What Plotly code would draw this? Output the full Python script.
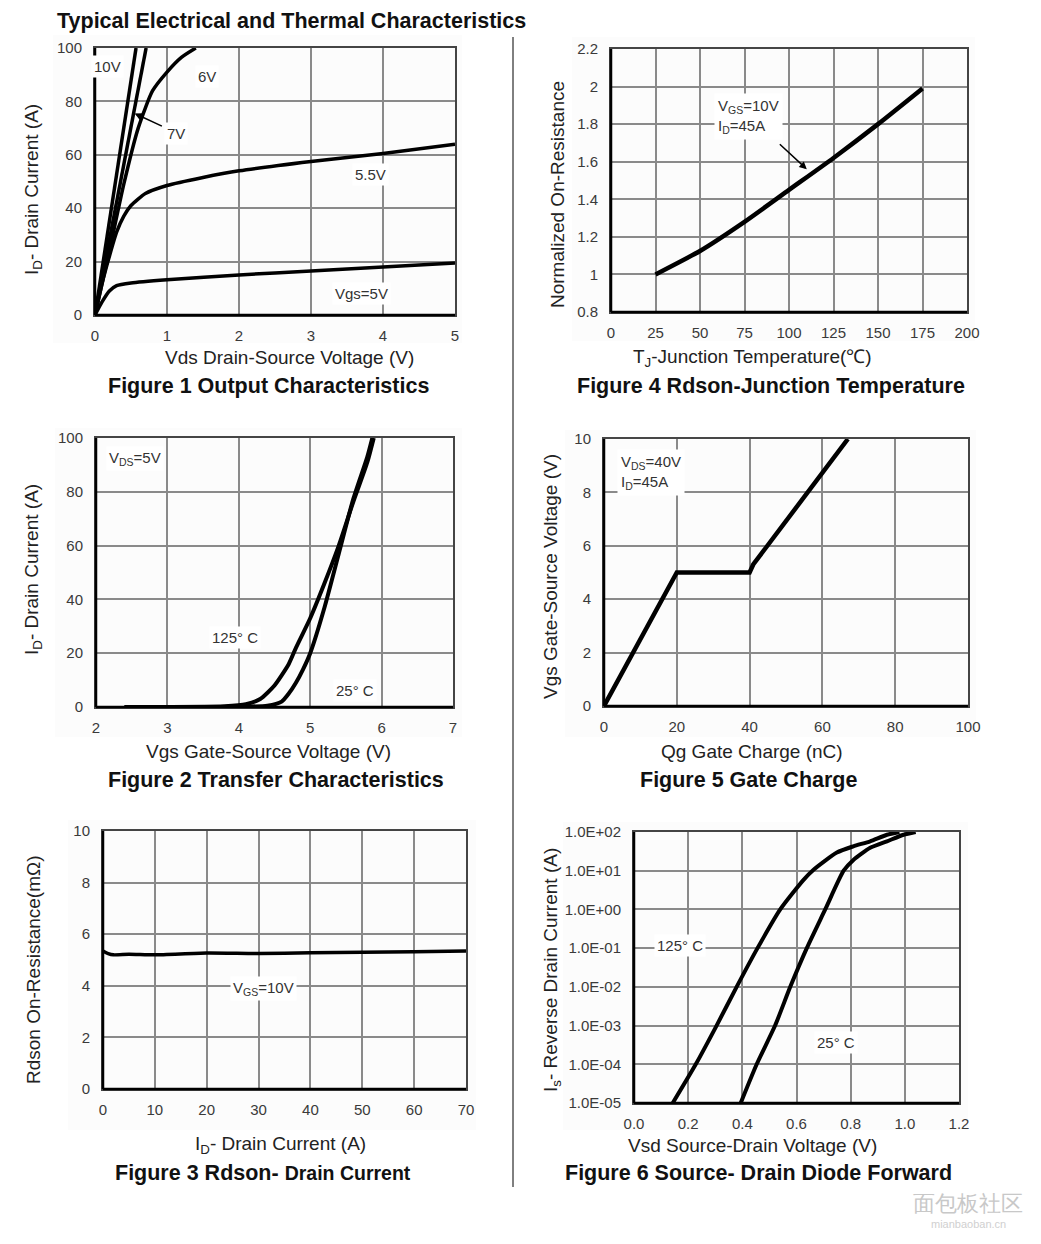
import plotly.graph_objects as go

W, H = 1041, 1244
OFF = 8  # page body margin in the browser
FONT = "Liberation Sans, Arial, sans-serif"

# ---------------- data ----------------
# Figure 1 Output characteristics
f1_vds_5 = [0, 0.1, 0.2, 0.3, 0.5, 1, 2, 3, 4, 5]
f1_id_5 = [0, 5, 9, 11, 12, 13.2, 15, 16.5, 18, 19.5]
f1_vds_55 = [0, 0.1, 0.2, 0.3, 0.4, 0.5, 0.7, 1, 1.5, 2, 3, 4, 5]
f1_id_55 = [0, 12, 22, 31, 37, 41, 45.5, 48.5, 51.5, 54, 57.5, 60.5, 64]
f1_vds_6 = [0, 0.2, 0.4, 0.6, 0.8, 1.0, 1.2, 1.4]
f1_id_6 = [0, 24, 49, 70, 84, 91, 96.5, 100]
f1_vds_7 = [0, 0.35, 0.71]
f1_id_7 = [0, 50, 100]
f1_vds_10 = [0, 0.28, 0.57]
f1_id_10 = [0, 50, 100]

# Figure 4 Rdson vs junction temperature
f4_tj = [25, 50, 75, 100, 125, 150, 175]
f4_rn = [1.0, 1.125, 1.28, 1.45, 1.62, 1.80, 1.99]

# Figure 2 Transfer characteristics
f2_vgs_25 = [2.4, 4.0, 4.4, 4.6, 4.7, 4.8, 4.9, 5.0, 5.2, 5.4, 5.6, 5.8, 5.87]
f2_id_25 = [0, 0.1, 0.5, 2, 5, 9, 14, 20, 37, 57, 77, 93, 100]
f2_vgs_125 = [2.4, 3.8, 4.1, 4.3, 4.5, 4.7, 4.8, 5.0, 5.2, 5.4, 5.6, 5.8, 5.89]
f2_id_125 = [0, 0.3, 1, 3, 8, 16, 22, 33, 46, 60, 76, 91, 100]

# Figure 5 Gate charge
f5_qg = [0, 20, 40, 41, 67]
f5_vgs = [0, 5, 5, 5.3, 10]

# Figure 3 Rdson vs drain current
f3_id = [0, 1, 2, 5, 10, 20, 30, 40, 50, 60, 70]
f3_rds = [5.35, 5.25, 5.2, 5.22, 5.2, 5.27, 5.25, 5.28, 5.3, 5.32, 5.35]

# Figure 6 Source-drain diode forward
f6_vsd_125 = [0.143, 0.228, 0.305, 0.379, 0.456, 0.54, 0.626, 0.663, 0.749, 0.81, 0.872, 0.934, 0.98]
f6_is_125 = [1e-5, 1e-4, 1e-3, 1e-2, 1e-1, 1e0, 5.8, 10.6, 29.5, 42.7, 57.5, 85, 100]
f6_vsd_25 = [0.394, 0.453, 0.521, 0.577, 0.638, 0.706, 0.774, 0.81, 0.872, 0.934, 0.995, 1.04]
f6_is_25 = [1e-5, 1e-4, 1e-3, 1e-2, 1e-1, 1e0, 10, 19, 39, 57.5, 85, 100]

f6_ytick_vals = [1e-5, 1e-4, 1e-3, 1e-2, 1e-1, 1e0, 1e1, 1e2]
f6_ytick_text = ["1.0E-05", "1.0E-04", "1.0E-03", "1.0E-02", "1.0E-01", "1.0E+00", "1.0E+01", "1.0E+02"]

# ---------------- layout helpers ----------------
panels = {
    # name: (left, right, top, bottom) in screen pixels
    1: (95, 455, 48, 315),
    2: (611, 967, 49, 312),
    3: (96, 453, 438, 707),
    4: (604, 968, 439, 706),
    5: (103, 466, 831, 1089),
    6: (634, 959, 832, 1103),
}
backs = [(53, 462, 35, 343), (572, 975, 37, 341), (55, 462, 428, 737),
         (565, 976, 430, 737), (68, 476, 820, 1130), (563, 968, 822, 1130)]

fig = go.Figure()
layout = dict(
    width=W, height=H, margin=dict(l=0, r=0, t=0, b=0, pad=0, autoexpand=False),
    paper_bgcolor="white", plot_bgcolor="white", showlegend=False,
    font=dict(family=FONT, color="#222"),
)
shapes = []
annotations = []

GRID = "#8a8a8a"
BORDER = "#444444"
TICKFONT = dict(family=FONT, size=15, color="#3a3a3a")


def px2x(p):
    return (p - OFF) / W


def px2y(p):
    return 1 - (p - OFF) / H


def axis_setup(i, xr, xt, yr, yt, xtext=None, ytext=None, ylog=False):
    l, r, t, b = panels[i]
    xs = "" if i == 1 else str(i)
    xa = dict(domain=[px2x(l), px2x(r)], range=xr, anchor="y" + xs, automargin=False,
              tickmode="array", tickvals=xt, showgrid=True, gridcolor=GRID, gridwidth=2,
              zeroline=False, showline=True, linecolor=BORDER, linewidth=2, mirror=True,
              ticks="outside", ticklen=6, tickcolor="rgba(0,0,0,0)", tickfont=TICKFONT,
              fixedrange=True)
    if xtext is not None:
        xa["ticktext"] = xtext
    ya = dict(domain=[px2y(b), px2y(t)], range=yr, anchor="x" + xs, automargin=False,
              tickmode="array", tickvals=yt, showgrid=True, gridcolor=GRID, gridwidth=2,
              zeroline=False, showline=True, linecolor=BORDER, linewidth=2, mirror=True,
              ticks="outside", ticklen=8, tickcolor="rgba(0,0,0,0)", tickfont=TICKFONT,
              fixedrange=True)
    if ylog:
        ya["type"] = "log"
    if ytext is not None:
        ya["ticktext"] = ytext
    layout["xaxis" + xs] = xa
    layout["yaxis" + xs] = ya
    # black left and bottom border
    shapes.append(dict(type="line", xref="x" + xs + " domain", yref="y" + xs + " domain",
                       x0=0, x1=0, y0=0, y1=1, line=dict(color="black", width=2.5)))
    shapes.append(dict(type="line", xref="x" + xs + " domain", yref="y" + xs + " domain",
                       x0=0, x1=1, y0=0, y1=0, line=dict(color="black", width=2.5)))
    return "x" + xs, "y" + xs


def curve(x, y, ax, width=3.5, smooth=True):
    line = dict(color="black", width=width)
    if smooth:
        line.update(shape="spline", smoothing=0.6)
    fig.add_trace(go.Scatter(x=x, y=y, mode="lines", xaxis=ax[0], yaxis=ax[1],
                             line=line, hoverinfo="skip"))


def label(ax, x, y, text, size=15, xanchor="center"):
    annotations.append(dict(xref=ax[0], yref=ax[1], x=x, y=y, text=text, showarrow=False,
                            font=dict(family=FONT, size=size, color="#333"),
                            bgcolor="white", xanchor=xanchor, borderpad=2))


def ptext(px, py, text, size=19, bold=False, angle=0, xanchor="center", color="#222"):
    if bold:
        text = "<b>" + text + "</b>"
    annotations.append(dict(xref="paper", yref="paper", x=px2x(px), y=px2y(py), text=text,
                            showarrow=False, textangle=angle, xanchor=xanchor, yanchor="middle",
                            font=dict(family=FONT, size=size, color=color)))


for (l, r, t, b) in backs:
    shapes.append(dict(type="rect", xref="paper", yref="paper", x0=px2x(l), x1=px2x(r),
                       y0=px2y(b), y1=px2y(t), fillcolor="#fcfcfc", line=dict(width=0),
                       layer="below"))

TS = 21.5  # figure caption size

# ---------------- Figure 1 ----------------
a1 = axis_setup(1, [0, 5], [0, 1, 2, 3, 4, 5], [0, 100], [0, 20, 40, 60, 80, 100])
curve(f1_vds_5, f1_id_5, a1)
curve(f1_vds_55, f1_id_55, a1)
curve(f1_vds_6, f1_id_6, a1)
curve(f1_vds_7, f1_id_7, a1, smooth=False)
curve(f1_vds_10, f1_id_10, a1, smooth=False)
label(a1, 0.18, 93, "10V")
label(a1, 1.55, 89.5, "6V")
label(a1, 1.13, 68, "7V")
label(a1, 3.83, 52.5, "5.5V")
label(a1, 3.7, 8, "Vgs=5V")
annotations.append(dict(xref=a1[0], yref=a1[1], x=0.55, y=75.5, ax=0.95, ay=70.5,
                        axref=a1[0], ayref=a1[1], text="", showarrow=True, arrowhead=2,
                        arrowsize=1, arrowwidth=1.5, arrowcolor="black"))
ptext(289, 358, "Vds Drain-Source Voltage (V)")
ptext(33, 190, "I<sub>D</sub>- Drain Current (A)", angle=-90)
ptext(268, 386, "Figure 1 Output Characteristics", size=TS, bold=True, color="#111")

# ---------------- Figure 4 ----------------
a2 = axis_setup(2, [0, 200], [0, 25, 50, 75, 100, 125, 150, 175, 200], [0.8, 2.2],
                [0.8, 1.0, 1.2, 1.4, 1.6, 1.8, 2.0, 2.2],
                ytext=["0.8", "1", "1.2", "1.4", "1.6", "1.8", "2", "2.2"])
curve(f4_tj, f4_rn, a2, width=4.5)
annotations.append(dict(xref=a2[0], yref=a2[1], x=58, y=1.84, text="V<sub>GS</sub>=10V<br>I<sub>D</sub>=45A",
                        showarrow=False, align="left", xanchor="left",
                        font=dict(family=FONT, size=15, color="#333"), bgcolor="white", borderpad=3))
annotations.append(dict(xref=a2[0], yref=a2[1], x=110, y=1.56, ax=94, ay=1.7,
                        axref=a2[0], ayref=a2[1], text="", showarrow=True, arrowhead=2,
                        arrowsize=1, arrowwidth=1.5, arrowcolor="black"))
ptext(752, 358, "T<sub>J</sub>-Junction Temperature(℃)")
ptext(557, 195, "Normalized On-Resistance", angle=-90)
ptext(771, 386, "Figure 4 Rdson-Junction Temperature", size=TS, bold=True, color="#111")

# ---------------- Figure 2 ----------------
a3 = axis_setup(3, [2, 7], [2, 3, 4, 5, 6, 7], [0, 100], [0, 20, 40, 60, 80, 100])
curve(f2_vgs_25, f2_id_25, a3, width=4)
curve(f2_vgs_125, f2_id_125, a3, width=4)
label(a3, 2.55, 92.5, "V<sub>DS</sub>=5V")
label(a3, 3.95, 26, "125° C")
label(a3, 5.63, 6.3, "25° C")
ptext(268, 751, "Vgs Gate-Source Voltage (V)")
ptext(33, 570, "I<sub>D</sub>- Drain Current (A)", angle=-90)
ptext(276, 780, "Figure 2 Transfer Characteristics", size=TS, bold=True, color="#111")

# ---------------- Figure 5 ----------------
a4 = axis_setup(4, [0, 100], [0, 20, 40, 60, 80, 100], [0, 10], [0, 2, 4, 6, 8, 10])
curve(f5_qg, f5_vgs, a4, width=4.5, smooth=False)
annotations.append(dict(xref=a4[0], yref=a4[1], x=3.5, y=8.75, text="V<sub>DS</sub>=40V<br>I<sub>D</sub>=45A",
                        showarrow=False, align="left", xanchor="left",
                        font=dict(family=FONT, size=15, color="#333"), bgcolor="white", borderpad=3))
ptext(752, 751, "Qg Gate Charge (nC)")
ptext(550, 577, "Vgs Gate-Source Voltage (V)", angle=-90)
ptext(748, 780, "Figure 5 Gate Charge", size=TS, bold=True, color="#111")

# ---------------- Figure 3 ----------------
a5 = axis_setup(5, [0, 70], [0, 10, 20, 30, 40, 50, 60, 70], [0, 10], [0, 2, 4, 6, 8, 10])
curve(f3_id, f3_rds, a5, width=3.5)
label(a5, 31, 3.9, "V<sub>GS</sub>=10V")
ptext(280, 1145, "I<sub>D</sub>- Drain Current (A)")
ptext(33, 970, "Rdson On-Resistance(mΩ)", angle=-90)
ptext(263, 1173, "Figure 3 Rdson- <span style='font-size:19.5px'>Drain Current</span>", size=TS, bold=True, color="#111")

# ---------------- Figure 6 ----------------
a6 = axis_setup(6, [0, 1.2], [0, 0.2, 0.4, 0.6, 0.8, 1.0, 1.2], [-5, 2], f6_ytick_vals,
                xtext=["0.0", "0.2", "0.4", "0.6", "0.8", "1.0", "1.2"], ytext=f6_ytick_text, ylog=True)
curve(f6_vsd_125, f6_is_125, a6, width=4)
curve(f6_vsd_25, f6_is_25, a6, width=4)
label(a6, 0.17, -0.93, "125° C")   # log axis: y given as log10
label(a6, 0.746, -3.45, "25° C")
ptext(752, 1145, "Vsd Source-Drain Voltage (V)")
ptext(552, 970, "I<sub>s</sub>- Reverse Drain Current (A)", angle=-90)
ptext(758, 1173, "Figure 6 Source- Drain Diode Forward", size=TS, bold=True, color="#111")

# ---------------- page title, divider, watermark ----------------
ptext(55, 21, "Typical Electrical and Thermal Characteristics", size=21.5, bold=True, xanchor="left", color="#111")
shapes.append(dict(type="line", xref="paper", yref="paper", x0=px2x(513), x1=px2x(513),
                   y0=px2y(37), y1=px2y(1187), line=dict(color="black", width=1)))
ptext(968, 1203, "面包板社区", size=22, color="#c8c8c8")
ptext(968, 1224, "mianbaoban.cn", size=11, color="#d0d0d0")

layout["shapes"] = shapes
layout["annotations"] = annotations
fig.update_layout(**layout)
fig.write_html("out.html")
